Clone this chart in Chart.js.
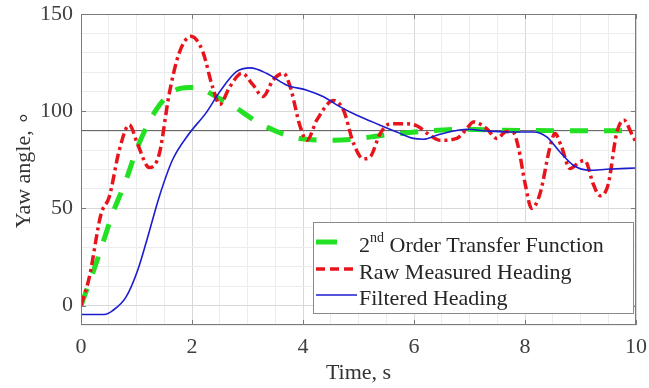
<!DOCTYPE html>
<html>
<head>
<meta charset="utf-8">
<script src="https://cdn.jsdelivr.net/npm/chart.js@4.4.1/dist/chart.umd.min.js"></script>
<style>
  html, body { margin: 0; padding: 0; background: #fff; }
  #wrap { width: 649px; height: 388px; }
</style>
</head>
<body>
<div id="wrap"><canvas id="yawChart" width="649" height="388"></canvas></div>
<script>
// series names ("^" marks a superscript)
const seriesNames = ["2^nd Order Transfer Function", "Raw Measured Heading", "Filtered Heading"];

// 2nd order transfer function response
const tfTime = [0, 0.27, 0.57, 0.81, 1.02, 1.35, 1.65, 1.95, 2.19, 2.49, 2.62, 3.28, 3.95, 4.55, 4.85, 5.45, 6.17, 6.89, 7.61, 8.5, 10];
const tfYaw  = [0, 21.5, 47.3, 64.4, 81.6, 100.5, 110, 112.2, 111.2, 106.5, 104.8, 92.8, 85.9, 85, 85.4, 87.6, 89.7, 90.7, 90.2, 90, 90];

// raw measured heading
const rawTime = [0, 0.15, 0.36, 0.51, 0.69, 0.87, 1.02, 1.23, 1.41, 1.59, 1.77, 1.98, 2.19, 2.37, 2.5,
  2.68, 2.9, 3.1, 3.28, 3.46, 3.65, 3.77, 3.95, 4.07, 4.25, 4.55, 4.73, 4.91, 5.09, 5.21, 5.39, 5.57,
  5.81, 6.05, 6.29, 6.47, 6.77, 6.95, 7.07, 7.31, 7.49, 7.67, 7.79, 7.88, 8.0, 8.12, 8.27, 8.45, 8.54,
  8.66, 8.81, 8.99, 9.08, 9.23, 9.35, 9.5, 9.65, 9.78, 9.92, 10];
const rawYaw = [0, 14.6, 47, 56, 80, 93, 83, 71, 78, 109, 130, 138.5, 131, 112.5, 103.5,
  112.5, 119.5, 113.5, 107.5, 116, 119.5, 112.5, 92, 85, 95.5, 105.5, 100.5, 83.5, 75.5, 76.5, 88.5, 93.5,
  93.5, 92.5, 87.5, 85, 86, 91, 94.5, 91, 86, 89.5, 89, 81.5, 63, 50, 57.5, 81.5, 88.5,
  81.5, 70.5, 74, 74.5, 62.5, 56.5, 62.5, 88.5, 95.5, 88.5, 84];

// filtered heading
const filtTime = [0, 0.42, 0.57, 0.81, 1.02, 1.2, 1.41, 1.65, 1.95, 2.25, 2.5, 2.8, 3.05, 3.35, 3.71,
  4.07, 4.37, 4.67, 4.97, 5.21, 5.39, 5.69, 5.99, 6.17, 6.41, 6.71, 6.95, 7.31, 7.67, 8.15, 8.39,
  8.63, 8.87, 9.17, 9.47, 10];
const filtYaw = [-4.6, -4.6, -2.6, 4.3, 18, 35, 56, 75, 88.5, 99, 110, 120.3, 122.3, 119.4, 113.4,
  110.8, 107.4, 102.2, 97.9, 95, 92.8, 89.3, 86, 85.6, 87.6, 89.8, 90.7, 89.8, 89.3, 89.3, 86.8,
  79, 72.2, 69.6, 70.1, 70.8];

// desired heading reference
const refTime = [0, 10];
const refYaw = [90, 90];

const xTicksMajor = [0, 2, 4, 6, 8, 10];
const yTicksMajor = [0, 50, 100, 150];

const serif = '"Liberation Serif", "Times New Roman", serif';

function pts(xs, ys) {
  return xs.map((x, i) => ({ x: x, y: ys[i] }));
}

// box, inward tick marks and the legend
const framePlugin = {
  id: "frame",
  afterDraw(chart) {
    const ctx = chart.ctx;
    const a = chart.chartArea;
    const xs = chart.scales.x, ys = chart.scales.y;
    ctx.save();
    ctx.strokeStyle = "#7a7a7a";
    ctx.lineWidth = 1;
    ctx.strokeRect(a.left + 0.5, a.top + 0.5, a.right - a.left - 1, a.bottom - a.top - 1);
    ctx.beginPath();
    xTicksMajor.forEach(v => {
      const px = Math.round(xs.getPixelForValue(v)) + 0.5;
      ctx.moveTo(px, a.bottom); ctx.lineTo(px, a.bottom - 5);
      ctx.moveTo(px, a.top); ctx.lineTo(px, a.top + 5);
    });
    yTicksMajor.forEach(v => {
      const py = Math.round(ys.getPixelForValue(v)) + 0.5;
      ctx.moveTo(a.left, py); ctx.lineTo(a.left + 5, py);
      ctx.moveTo(a.right, py); ctx.lineTo(a.right - 5, py);
    });
    ctx.stroke();

    // legend
    const lx = 313, ly = 222, lw = 320, lh = 91;
    ctx.fillStyle = "#fff";
    ctx.fillRect(lx, ly, lw, lh);
    ctx.strokeStyle = "#8a8a8a";
    ctx.strokeRect(lx + 0.5, ly + 0.5, lw, lh);
    const rows = [252, 279, 305];
    seriesNames.forEach((name, i) => {
      const ds = chart.data.datasets[i];
      const base = rows[i];
      ctx.save();
      ctx.strokeStyle = ds.borderColor;
      ctx.lineWidth = ds.borderWidth;
      ctx.setLineDash(ds.legendDash || []);
      ctx.beginPath();
      ctx.moveTo(316, base - 10);
      ctx.lineTo(357, base - 10);
      ctx.stroke();
      ctx.restore();
      ctx.fillStyle = "#262626";
      ctx.textBaseline = "alphabetic";
      let x = 359;
      name.split(/(\^\w+)/).forEach(part => {
        if (!part) return;
        if (part[0] === "^") {
          ctx.font = "14px " + serif;
          ctx.fillText(part.slice(1), x, base - 10);
          x += ctx.measureText(part.slice(1)).width;
        } else {
          ctx.font = "22px " + serif;
          ctx.fillText(part, x, base);
          x += ctx.measureText(part).width;
        }
      });
    });
    ctx.restore();
  }
};

const gridColor = (major) => (c) =>
  major.includes(c.tick.value) ? "#d8d8d8" : "#ececec";

new Chart(document.getElementById("yawChart").getContext("2d"), {
  type: "line",
  data: {
    datasets: [
      {
        label: seriesNames[0],
        data: pts(tfTime, tfYaw),
        borderColor: "#22e022",
        borderWidth: 5,
        borderDash: [18, 16],
        legendDash: [21, 30],
        cubicInterpolationMode: "monotone",
        pointRadius: 0,
        order: 3
      },
      {
        label: seriesNames[1],
        data: pts(rawTime, rawYaw),
        borderColor: "#e8141c",
        borderWidth: 3.5,
        borderDash: [10, 4, 3, 4],
        legendDash: [9, 5],
        cubicInterpolationMode: "monotone",
        pointRadius: 0,
        order: 2
      },
      {
        label: seriesNames[2],
        data: pts(filtTime, filtYaw),
        borderColor: "#1c1cd0",
        borderWidth: 1.6,
        cubicInterpolationMode: "monotone",
        pointRadius: 0,
        order: 1
      },
      {
        label: "reference",
        data: pts(refTime, refYaw),
        borderColor: "#555555",
        borderWidth: 1,
        pointRadius: 0,
        order: 4
      }
    ]
  },
  options: {
    responsive: false,
    animation: false,
    devicePixelRatio: 1,
    layout: { padding: { top: 14, right: 13, left: 0, bottom: 0 } },
    plugins: { legend: { display: false }, tooltip: { enabled: false } },
    scales: {
      x: {
        type: "linear",
        min: 0,
        max: 10,
        afterFit: (s) => { s.height = 63; s.paddingLeft = 0; s.paddingRight = 0; },
        ticks: {
          stepSize: 0.5,
          autoSkip: false,
          maxRotation: 0,
          padding: 9,
          color: "#404040",
          font: { family: serif, size: 22 },
          callback: (v) => (xTicksMajor.includes(v) ? v : "")
        },
        grid: { color: gridColor(xTicksMajor), drawTicks: false },
        border: { display: false },
        title: {
          display: true,
          text: "Time, s",
          color: "#333",
          font: { family: serif, size: 22 },
          padding: { top: 0, bottom: 2 }
        }
      },
      y: {
        min: -10,
        max: 150,
        afterFit: (s) => { s.width = 81; s.paddingTop = 0; s.paddingBottom = 0; },
        ticks: {
          stepSize: 10,
          autoSkip: false,
          padding: 8,
          color: "#404040",
          font: { family: serif, size: 22 },
          callback: (v) => (yTicksMajor.includes(v) ? v : "")
        },
        grid: { color: gridColor(yTicksMajor), drawTicks: false },
        border: { display: false },
        title: {
          display: true,
          text: "Yaw angle, \u2218",
          color: "#333",
          font: { family: serif, size: 22 },
          padding: { top: 11, bottom: 0 }
        }
      }
    }
  },
  plugins: [framePlugin]
});
</script>
</body>
</html>
